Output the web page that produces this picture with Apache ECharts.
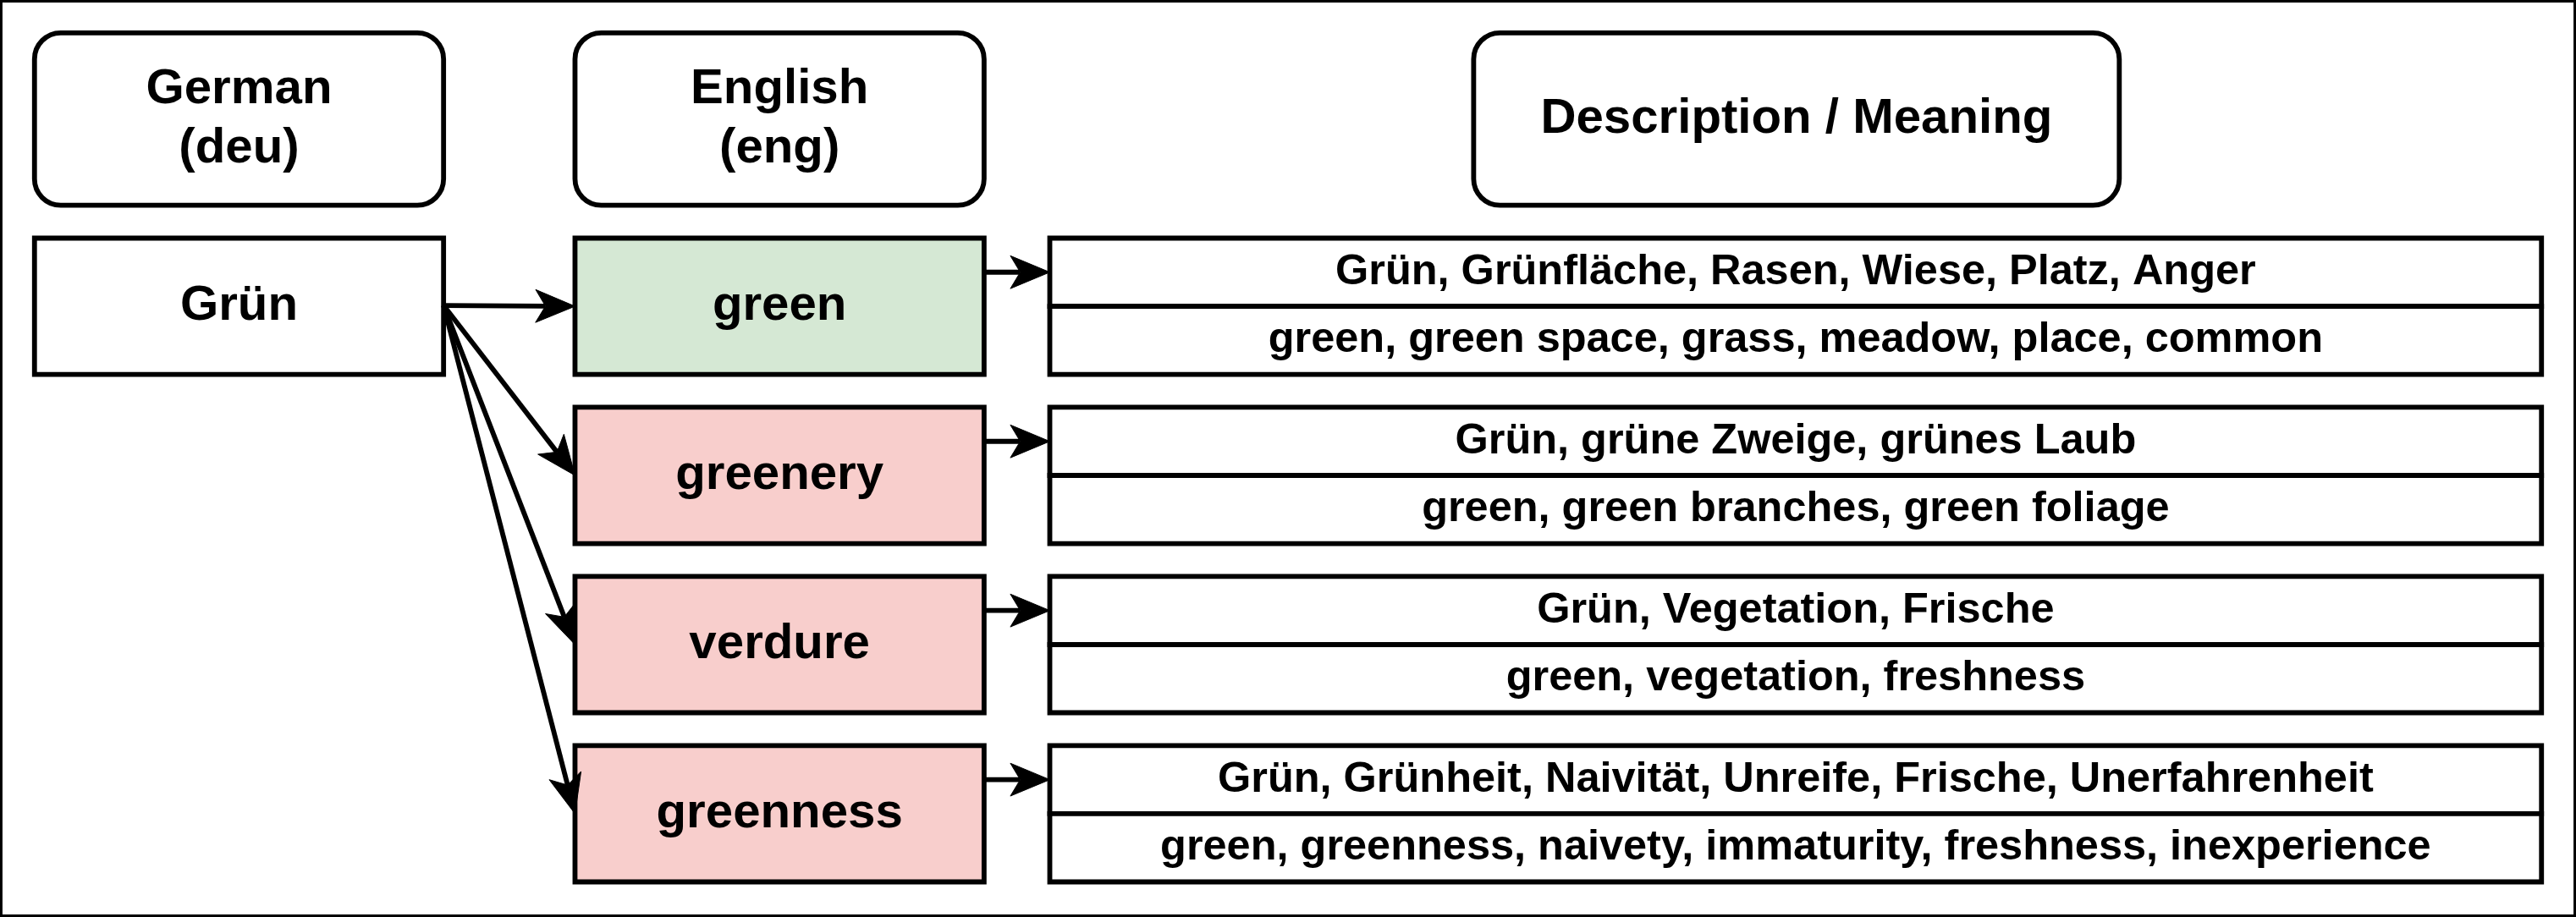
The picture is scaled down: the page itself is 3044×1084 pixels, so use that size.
<!DOCTYPE html>
<html>
<head>
<meta charset="utf-8">
<script src="https://cdn.jsdelivr.net/npm/echarts@6/dist/echarts.min.js"></script>
<style>html,body{margin:0;padding:0;background:#fff}#main{width:3044px;height:1084px}</style>
</head>
<body>
<div id="main"></div>
<script>
// data
const headers = ['German\n(deu)', 'English\n(eng)', 'Description / Meaning'];
const source = 'Grün';
const targets = ['green', 'greenery', 'verdure', 'greenness'];
const targetFill = ['#d5e8d4', '#f8cecc', '#f8cecc', '#f8cecc'];
const descDe = [
  'Grün, Grünfläche, Rasen, Wiese, Platz, Anger',
  'Grün, grüne Zweige, grünes Laub',
  'Grün, Vegetation, Frische',
  'Grün, Grünheit, Naivität, Unreife, Frische, Unerfahrenheit'
];
const descEn = [
  'green, green space, grass, meadow, place, common',
  'green, green branches, green foliage',
  'green, vegetation, freshness',
  'green, greenness, naivety, immaturity, freshness, inexperience'
];

const chart = echarts.init(document.getElementById('main'));
const s = 3044 / 1568;
const F = 'Liberation Sans, Arial, sans-serif';
const lw = 3 * s;
const els = [];

function box(x0, y0, x1, y1, fill, r, text, fs) {
  els.push({type: 'rect', shape: {x: x0 * s, y: y0 * s, width: (x1 - x0) * s, height: (y1 - y0) * s, r: r * s},
    style: {fill: fill, stroke: '#000', lineWidth: lw}});
  if (text) els.push({type: 'text', x: (x0 + x1) / 2 * s, y: (y0 + y1) / 2 * s,
    style: {text: text, fill: '#000', font: 'bold ' + fs * s + 'px ' + F, align: 'center', verticalAlign: 'middle', lineHeight: fs * 1.2 * s}, z: 10});
}
function arrow(x0, y0, x1, y1) {
  const a = Math.atan2(y1 - y0, x1 - x0), L = 24, W = 10;
  const bx = x1 - L * 0.75 * Math.cos(a), by = y1 - L * 0.75 * Math.sin(a);
  els.push({type: 'line', shape: {x1: x0 * s, y1: y0 * s, x2: bx * s, y2: by * s}, style: {stroke: '#000', lineWidth: lw}});
  const px = -Math.sin(a), py = Math.cos(a);
  const tx = x1 - L * Math.cos(a), ty = y1 - L * Math.sin(a);
  els.push({type: 'polygon', shape: {points: [
    [x1 * s, y1 * s], [(tx + px * W) * s, (ty + py * W) * s], [bx * s, by * s], [(tx - px * W) * s, (ty - py * W) * s]]},
    style: {fill: '#000', stroke: '#000', lineWidth: 1}, z: 5});
}

els.push({type: 'rect', shape: {x: 1, y: 1, width: 3042, height: 1082}, style: {fill: 'none', stroke: '#000', lineWidth: 2 * s}});
const hx = [[21, 270], [350, 599], [897, 1290]];
headers.forEach((h, i) => box(hx[i][0], 20, hx[i][1], 125, '#fff', 16, h, 30));
box(21, 145, 270, 228, '#fff', 0, source, 30);
const rowTop = [145, 248, 351, 454], rowH = 83;
targets.forEach((t, i) => {
  const y0 = rowTop[i], y1 = y0 + rowH, ym = (y0 + y1) / 2;
  box(350, y0, 599, y1, targetFill[i], 0, t, 30);
  box(639, y0, 1547, ym, '#fff', 0, descDe[i], 26);
  box(639, ym, 1547, y1, '#fff', 0, descEn[i], 26);
  arrow(270, 186, 350, ym);
  arrow(599, (y0 + ym) / 2, 639, (y0 + ym) / 2);
});
chart.setOption({animation: false, graphic: {elements: els}});
</script>
</body>
</html>
